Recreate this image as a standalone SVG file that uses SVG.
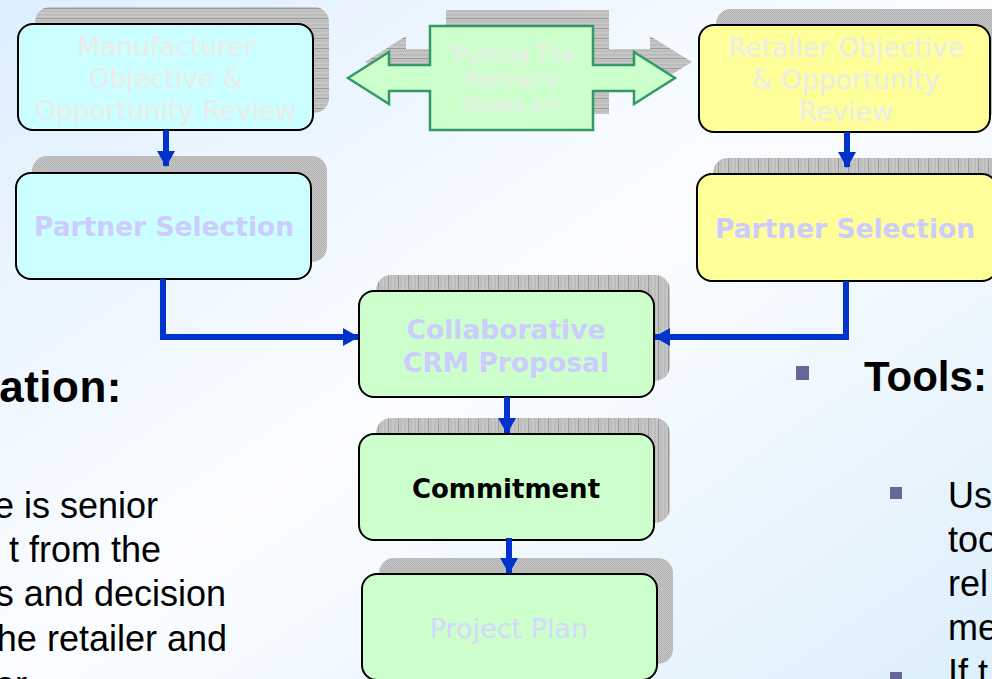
<svg xmlns="http://www.w3.org/2000/svg" width="992" height="679" viewBox="0 0 992 679">
<defs>
<linearGradient id="bg" x1="0" y1="0" x2="1" y2="1">
<stop offset="0" stop-color="#DDEFFF"/>
<stop offset="0.5" stop-color="#FBFDFF"/>
<stop offset="1" stop-color="#DCEFFC"/>
</linearGradient>
<pattern id="shPlain" width="2" height="2" patternUnits="userSpaceOnUse">
<rect width="2" height="2" fill="#C6C6C6"/>
<rect width="1" height="1" fill="#B2B2B2"/>
<rect x="1" y="1" width="1" height="1" fill="#B2B2B2"/>
</pattern>
<pattern id="shH" width="2" height="10" patternUnits="userSpaceOnUse">
<rect width="2" height="10" fill="#C6C6C6"/>
<rect width="1" height="1" fill="#B2B2B2"/>
<rect x="1" y="1" width="1" height="1" fill="#B2B2B2"/>
<rect width="1" height="1" y="4" fill="#B2B2B2"/>
<rect x="1" y="5" width="1" height="1" fill="#B2B2B2"/>
<rect y="8" width="2" height="1" fill="#999999"/>
</pattern>
<pattern id="shV" width="10" height="2" patternUnits="userSpaceOnUse">
<rect width="10" height="2" fill="#C6C6C6"/>
<rect width="1" height="1" fill="#B2B2B2"/>
<rect x="1" y="1" width="1" height="1" fill="#B2B2B2"/>
<rect x="4" width="1" height="1" fill="#B2B2B2"/>
<rect x="5" y="1" width="1" height="1" fill="#B2B2B2"/>
<rect x="8" width="1" height="2" fill="#999999"/>
</pattern>
<marker id="ah" viewBox="0 0 16 18" refX="15" refY="9" markerWidth="16" markerHeight="18" markerUnits="userSpaceOnUse" orient="auto">
<path d="M0,0 L16,9 L0,18 Z" fill="#0033CC"/>
</marker>
</defs>
<style>
.box{stroke:#000;stroke-width:2}
.cyan{fill:#CCFFFF}
.yel{fill:#FFFF99}
.grn{fill:#CCFFCC}
.lt{font-family:"DejaVu Sans",Verdana,sans-serif;font-size:26.5px;fill:#EBEBEB;text-anchor:middle}
.lav{font-family:"DejaVu Sans",Verdana,sans-serif;font-size:26.5px;font-weight:bold;fill:#CCCCFF;text-anchor:middle}
.conn{fill:none;stroke:#0033CC;stroke-width:6;marker-end:url(#ah)}
.body{font-family:"Liberation Sans",Arial,sans-serif;font-size:36px;fill:#000}
.head{font-family:"Liberation Sans",Arial,sans-serif;font-size:42px;font-weight:bold;fill:#000}
.bul{fill:#666699}
</style>
<rect width="992" height="679" fill="url(#bg)"/>

<g id="manufacturer-review">
<rect x="35" y="7" width="294" height="106" rx="15" fill="url(#shH)"/>
<rect class="box cyan" x="18" y="24" width="295" height="106" rx="15"/>
<text class="lt" x="166" y="56">Manufacturer</text>
<text class="lt" x="166" y="88">Objective &amp;</text>
<text class="lt" x="166" y="120">Opportunity Review</text>
</g>

<g id="partners-shoes">
<path d="M365,62 L406,36 L406,49 L446,49 L446,10 L609,10 L609,49 L650,49 L650,36 L692,62 L650,88 L650,75 L609,75 L609,114 L446,114 L446,75 L406,75 L406,88 Z" fill="url(#shH)"/>
<path d="M348,78 L389,52 L389,65 L430,65 L430,26 L593,26 L593,65 L634,65 L634,52 L675,78 L634,104 L634,91 L593,91 L593,130 L430,130 L430,91 L389,91 L389,104 Z" fill="#CCFFCC" stroke="#339966" stroke-width="2.5" stroke-linejoin="miter"/>
<text class="lt" x="512" y="62" style="font-size:21px">'Putting The</text>
<text class="lt" x="512" y="87" style="font-size:21px">Partner's</text>
<text class="lt" x="512" y="112" style="font-size:21px">Shoes on'</text>
</g>

<g id="retailer-review">
<rect x="716" y="9" width="294" height="106" rx="15" fill="url(#shPlain)"/>
<rect class="box yel" x="699" y="25" width="291" height="107" rx="15"/>
<text class="lt" x="846" y="57">Retailer Objective</text>
<text class="lt" x="846" y="89">&amp; Opportunity</text>
<text class="lt" x="846" y="121">Review</text>
</g>

<g id="partner-selection-left">
<rect x="32" y="156" width="295" height="106" rx="15" fill="url(#shPlain)"/>
<rect class="box cyan" x="16" y="173" width="295" height="106" rx="15"/>
<text class="lav" x="164" y="236">Partner Selection</text>
</g>

<g id="partner-selection-right">
<rect x="713" y="158" width="295" height="106" rx="15" fill="url(#shV)"/>
<rect class="box yel" x="697" y="174" width="300" height="107" rx="15"/>
<text class="lav" x="845" y="238">Partner Selection</text>
</g>

<g id="crm-proposal">
<rect x="376" y="275" width="294" height="106" rx="15" fill="url(#shV)"/>
<rect class="box grn" x="359" y="291" width="295" height="106" rx="15"/>
<text class="lav" x="506" y="339">Collaborative</text>
<text class="lav" x="506" y="372">CRM Proposal</text>
</g>

<g id="commitment">
<rect x="376" y="418" width="294" height="105" rx="15" fill="url(#shV)"/>
<rect class="box grn" x="359" y="434" width="295" height="106" rx="15"/>
<text class="lav" x="506" y="498" style="fill:#000;font-size:26px">Commitment</text>
</g>

<g id="project-plan">
<rect x="379" y="558" width="294" height="106" rx="15" fill="url(#shPlain)"/>
<rect class="box grn" x="362" y="574" width="295" height="106" rx="15"/>
<text class="lt" x="509" y="638" style="fill:#D6D6FF;font-size:27px">Project Plan</text>
</g>

<g id="connectors">
<path class="conn" d="M166,130 L166,166"/>
<path class="conn" d="M847,132 L847,167"/>
<path class="conn" d="M163,279 L163,337 L358,337"/>
<path class="conn" d="M846,281 L846,337 L655,337"/>
<path class="conn" d="M507,397 L507,433"/>
<path class="conn" d="M509,538 L509,573"/>
</g>

<g id="left-text">
<text class="head" x="122" y="402" text-anchor="end" style="font-size:44px;letter-spacing:0.5px">ation:</text>
<text class="body" x="158" y="518" text-anchor="end">e is senior</text>
<text class="body" x="161" y="562" text-anchor="end">t from the</text>
<text class="body" x="226" y="606" text-anchor="end">s and decision</text>
<text class="body" x="227" y="651" text-anchor="end">he retailer and</text>
<text class="body" x="27" y="697" text-anchor="end">or</text>
</g>

<g id="right-text">
<rect class="bul" x="796" y="366" width="13" height="14"/>
<text class="head" x="864" y="391">Tools:</text>
<rect class="bul" x="890" y="487" width="12" height="12"/>
<text class="body" x="948" y="508">Use</text>
<text class="body" x="948" y="552">too</text>
<text class="body" x="948" y="596">rel</text>
<text class="body" x="948" y="640">me</text>
<rect class="bul" x="890" y="672" width="12" height="12"/>
<text class="body" x="948" y="685">If t</text>
</g>
</svg>
